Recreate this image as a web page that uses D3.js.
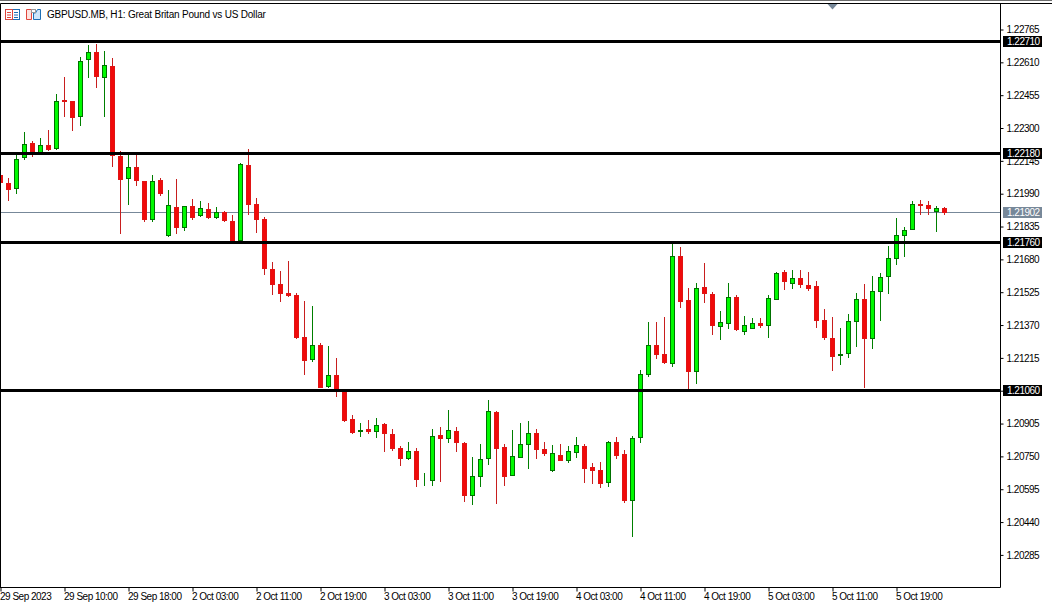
<!DOCTYPE html>
<html>
<head>
<meta charset="utf-8">
<script src="https://cdn.jsdelivr.net/npm/d3@7"></script>
<style>
    html, body { margin: 0; padding: 0; background: #fff; }
    svg { display: block; }
    text { font-family: "Liberation Sans", sans-serif; font-size: 10px; fill: #000; }
</style>
</head>
<body>
<div id="chart"></div>
<script>
// GBPUSD.MB H1 candles, one entry per bar
const opens = [
    1.22076,1.22038,1.22015,1.22161,1.22227,1.22184,1.22217,1.22203,1.22430,1.22425,
    1.22354,1.22623,1.22656,1.22538,1.22590,1.22166,1.22062,1.22114,1.22048,1.21868,
    1.22052,1.21793,1.21925,1.21830,1.21930,1.21887,1.21915,1.21878,1.21901,1.21859,
    1.21769,1.22123,1.21939,1.21868,1.21632,1.21561,1.21519,1.21509,1.21311,1.21207,
    1.21273,1.21080,1.21132,1.21056,1.20924,1.20868,1.20877,1.20868,1.20901,1.20853,
    1.20787,1.20740,1.20773,1.20631,1.20636,1.20849,1.20835,1.20868,1.20811,1.20565,
    1.20655,1.20740,1.20957,1.20792,1.20660,1.20745,1.20806,1.20858,1.20783,1.20683,
    1.20754,1.20731,1.20768,1.20797,1.20698,1.20683,1.20627,1.20816,1.20759,1.20542,
    1.20839,1.21137,1.21273,1.21231,1.21189,1.21694,1.21486,1.21151,1.21547,1.21514,
    1.21363,1.21377,1.21500,1.21340,1.21354,1.21377,1.21368,1.21491,1.21618,1.21566,
    1.21590,1.21557,1.21552,1.21391,1.21307,1.21226,1.21236,1.21387,1.21491,1.21307,
    1.21528,1.21599,1.21684,1.21793,1.21821,1.21939,1.21934,1.21906,1.21920
];
const highs = [
    1.22078,1.22064,1.22177,1.22281,1.22239,1.22253,1.22291,1.22461,1.22541,1.22428,
    1.22635,1.22692,1.22697,1.22664,1.22630,1.22192,1.22182,1.22182,1.22050,1.22078,
    1.22064,1.22007,1.22059,1.21932,1.21965,1.21956,1.21946,1.21927,1.21908,1.21889,
    1.22135,1.22201,1.21970,1.21880,1.21668,1.21625,1.21672,1.21521,1.21484,1.21460,
    1.21285,1.21271,1.21214,1.21063,1.20945,1.20908,1.20922,1.20931,1.20908,1.20879,
    1.20799,1.20818,1.20790,1.20672,1.20879,1.20889,1.20969,1.20889,1.20818,1.20747,
    1.20809,1.21016,1.20964,1.20809,1.20875,1.20908,1.20917,1.20879,1.20818,1.20804,
    1.20809,1.20799,1.20842,1.20809,1.20719,1.20724,1.20823,1.20842,1.20780,1.20846,
    1.21158,1.21384,1.21384,1.21408,1.21753,1.21738,1.21545,1.21568,1.21663,1.21526,
    1.21436,1.21568,1.21512,1.21413,1.21403,1.21403,1.21512,1.21620,1.21630,1.21630,
    1.21630,1.21620,1.21578,1.21446,1.21408,1.21356,1.21422,1.21521,1.21564,1.21602,
    1.21616,1.21743,1.21875,1.21833,1.21956,1.21960,1.21956,1.21932,1.21927
];
const lows = [
    1.22040,1.21956,1.21989,1.22149,1.22163,1.22182,1.22191,1.22196,1.22352,1.22286,
    1.22310,1.22536,1.22489,1.22352,1.22116,1.21800,1.21937,1.22026,1.21856,1.21856,
    1.21979,1.21786,1.21800,1.21814,1.21866,1.21880,1.21871,1.21871,1.21856,1.21762,
    1.21767,1.21889,1.21804,1.21606,1.21512,1.21479,1.21502,1.21304,1.21134,1.21196,
    1.21073,1.21073,1.21030,1.20912,1.20856,1.20842,1.20856,1.20837,1.20771,1.20776,
    1.20705,1.20733,1.20606,1.20610,1.20610,1.20629,1.20813,1.20771,1.20535,1.20521,
    1.20606,1.20709,1.20525,1.20610,1.20658,1.20742,1.20691,1.20738,1.20752,1.20676,
    1.20728,1.20719,1.20742,1.20624,1.20620,1.20601,1.20606,1.20738,1.20530,1.20370,
    1.20813,1.21125,1.21210,1.21186,1.21172,1.21450,1.21068,1.21092,1.21474,1.21323,
    1.21299,1.21351,1.21342,1.21323,1.21351,1.21356,1.21309,1.21488,1.21535,1.21540,
    1.21545,1.21531,1.21356,1.21299,1.21153,1.21181,1.21214,1.21266,1.21073,1.21257,
    1.21389,1.21517,1.21653,1.21691,1.21819,1.21889,1.21889,1.21809,1.21889
];
const closes = [
    1.22043,1.22010,1.22151,1.22222,1.22189,1.22217,1.22199,1.22425,1.22425,1.22350,
    1.22614,1.22656,1.22543,1.22595,1.22170,1.22057,1.22114,1.22052,1.21868,1.22048,
    1.21991,1.21934,1.21830,1.21930,1.21878,1.21920,1.21878,1.21901,1.21863,1.21764,
    1.22128,1.21939,1.21868,1.21637,1.21561,1.21519,1.21509,1.21311,1.21203,1.21273,
    1.21075,1.21132,1.21056,1.20919,1.20863,1.20872,1.20868,1.20896,1.20858,1.20787,
    1.20740,1.20773,1.20641,1.20632,1.20844,1.20835,1.20872,1.20816,1.20565,1.20655,
    1.20735,1.20962,1.20787,1.20655,1.20750,1.20806,1.20858,1.20783,1.20764,1.20764,
    1.20731,1.20773,1.20801,1.20693,1.20683,1.20622,1.20816,1.20754,1.20542,1.20835,
    1.21137,1.21273,1.21231,1.21193,1.21694,1.21481,1.21151,1.21543,1.21519,1.21368,
    1.21382,1.21500,1.21349,1.21368,1.21377,1.21368,1.21495,1.21613,1.21576,1.21590,
    1.21561,1.21543,1.21391,1.21311,1.21222,1.21231,1.21387,1.21491,1.21307,1.21528,
    1.21594,1.21684,1.21793,1.21816,1.21939,1.21934,1.21920,1.21920,1.21902
];

const priceTicks = [
    1.22765,1.22610,1.22455,1.22300,1.22145,1.21990,1.21835,1.21680,1.21525,
    1.21370,1.21215,1.21060,1.20905,1.20750,1.20595,1.20440,1.20285
];
const timeTickBars = [0,8,16,24,32,40,48,56,64,72,80,88,96,104,112];
const timeTickLabels = [
    "29 Sep 2023","29 Sep 10:00","29 Sep 18:00","2 Oct 03:00","2 Oct 11:00",
    "2 Oct 19:00","3 Oct 03:00","3 Oct 11:00","3 Oct 19:00","4 Oct 03:00",
    "4 Oct 11:00","4 Oct 19:00","5 Oct 03:00","5 Oct 11:00","5 Oct 19:00"
];
const levels = [1.22710, 1.22180, 1.21760, 1.21060];
const lastPrice = 1.21902;
const chartTitle = "GBPUSD.MB, H1:  Great Britan Pound vs US Dollar";

// dimensions
const canvas = {width: 1052, height: 605};
const frame = {left: 0, top: 3, right: 1000, bottom: 587};

const svg = d3.select("#chart")
    .append("svg")
    .attr("width", canvas.width)
    .attr("height", canvas.height);

// scales
const xScale = d3.scaleLinear().domain([0, 118]).range([0.5, 944.5]);
const yScale = d3.scaleLinear().domain([1.22765, 1.20285]).range([29.5, 554.9]);
const snap = v => Math.floor(v) + 0.5;

// grey strip above the chart window
svg.append("rect").attr("x", 0).attr("y", 0).attr("width", canvas.width).attr("height", 1).attr("fill", "#6d6d6d");

// clipped plot area
svg.append("clipPath").attr("id", "plot-clip")
    .append("rect")
    .attr("x", frame.left)
    .attr("y", frame.top)
    .attr("width", frame.right - frame.left)
    .attr("height", frame.bottom - frame.top);
const plot = svg.append("g").attr("clip-path", "url(#plot-clip)");

// bid line sits behind the candles
plot.append("line")
    .attr("x1", frame.left).attr("x2", frame.right)
    .attr("y1", snap(yScale(lastPrice))).attr("y2", snap(yScale(lastPrice)))
    .attr("stroke", "#778899");

// candles
const candles = d3.range(opens.length).map(i => ({
    i: i, open: opens[i], high: highs[i], low: lows[i], close: closes[i], up: closes[i] >= opens[i]
}));
const colors = {
    up: {wick: "#007f00", fill: "#00fa00", stroke: "#007000"},
    down: {wick: "#c81e1e", fill: "#f00a0a", stroke: "#e01414"}
};
const candle = plot.selectAll("g.candle")
    .data(candles)
    .enter()
    .append("g")
    .attr("class", "candle");
candle.append("line")
    .attr("x1", d => xScale(d.i)).attr("x2", d => xScale(d.i))
    .attr("y1", d => Math.round(yScale(d.high)))
    .attr("y2", d => Math.round(yScale(d.low)))
    .attr("stroke", d => d.up ? colors.up.wick : colors.down.wick);
candle.append("rect")
    .attr("x", d => xScale(d.i) - 2)
    .attr("width", 4)
    .attr("y", d => snap(yScale(Math.max(d.open, d.close))))
    .attr("height", d => snap(yScale(Math.min(d.open, d.close))) - snap(yScale(Math.max(d.open, d.close))))
    .attr("fill", d => d.up ? colors.up.fill : colors.down.fill)
    .attr("stroke", d => d.up ? colors.up.stroke : colors.down.stroke);

// horizontal levels
plot.selectAll("line.level")
    .data(levels)
    .enter()
    .append("line")
    .attr("class", "level")
    .attr("x1", frame.left).attr("x2", frame.right)
    .attr("y1", d => snap(yScale(d))).attr("y2", d => snap(yScale(d)))
    .attr("stroke", "#000")
    .attr("stroke-width", 3);

// frame
svg.append("path")
    .attr("d", `M${frame.left + 0.5},${frame.bottom + 0.5}V${frame.top + 0.5}H${canvas.width}`)
    .attr("fill", "none").attr("stroke", "#000");
svg.append("path")
    .attr("d", `M${frame.right + 0.5},${frame.top + 0.5}V${frame.bottom + 0.5}H0`)
    .attr("fill", "none").attr("stroke", "#000");

// axes
const yAxis = d3.axisRight(yScale)
    .tickValues(priceTicks)
    .tickFormat(d3.format(".5f"))
    .tickSize(3)
    .tickPadding(3);
const yAxisG = svg.append("g")
    .attr("class", "y-axis")
    .attr("transform", `translate(${frame.right + 0.5},0)`)
    .call(yAxis);
yAxisG.select(".domain").remove();

const xAxis = d3.axisBottom(xScale)
    .tickValues(timeTickBars)
    .tickFormat((d, i) => timeTickLabels[i])
    .tickSize(4)
    .tickPadding(1);
const xAxisG = svg.append("g")
    .attr("class", "x-axis")
    .attr("transform", `translate(0,${frame.bottom + 0.5})`)
    .call(xAxis);
xAxisG.select(".domain").remove();
xAxisG.selectAll("text").attr("text-anchor", "start").attr("x", -1);

// the terminal font runs narrower than Liberation
svg.selectAll(".y-axis text, .x-axis text")
    .style("font-family", "'Liberation Sans', sans-serif")
    .style("font-size", "10px")
    .style("letter-spacing", "-0.5px");

// price tags on the axis
const tags = levels.map(d => ({value: d, bg: "#000"})).concat([{value: lastPrice, bg: "#778899"}]);
const tag = svg.selectAll("g.tag")
    .data(tags)
    .enter()
    .append("g")
    .attr("class", "tag")
    .attr("transform", d => `translate(1003,${Math.floor(yScale(d.value))})`);
tag.append("rect")
    .attr("x", 0).attr("y", -5).attr("width", 39).attr("height", 11)
    .attr("fill", d => d.bg);
tag.append("text")
    .attr("x", 4).attr("y", 4)
    .style("fill", "#fff")
    .style("letter-spacing", "-0.5px")
    .text(d => d3.format(".5f")(d.value));

// shift marker at the top
svg.append("path")
    .attr("d", "M827.5,4H837.5L832.5,9.5Z")
    .attr("fill", "#778899");

// title and the two toolbar icons
svg.append("text").attr("x", 47).attr("y", 18).style("letter-spacing", "-0.2px").text(chartTitle);

const icons = svg.append("g").attr("fill", "none");
icons.append("rect").attr("x", 5.5).attr("y", 9.5).attr("width", 14).attr("height", 10).attr("stroke", "#1e6fb4");
icons.append("path").attr("d", "M5.5,9.5H12.5V19.5H5.5Z").attr("stroke", "#e0453c");
icons.append("path").attr("d", "M7,12.5H11M7,15H11M7,17.5H11").attr("stroke", "#e0453c");
icons.append("path").attr("d", "M14,12.5H18M14,15H18M14,17.5H18").attr("stroke", "#1e6fb4");
icons.append("path").attr("d", "M26.5,9.5H31.5V19.5H26.5Z").attr("stroke", "#e0453c").attr("fill", "#fde3e0");
icons.append("path").attr("d", "M33.5,19.5H40.5V9.5H37.5L35.5,13H33.5Z").attr("stroke", "#1e6fb4").attr("fill", "#cfe6fa");
icons.append("rect").attr("x", 31.5).attr("y", 9.5).attr("width", 4).attr("height", 3).attr("stroke", "#999");
</script>
</body>
</html>
